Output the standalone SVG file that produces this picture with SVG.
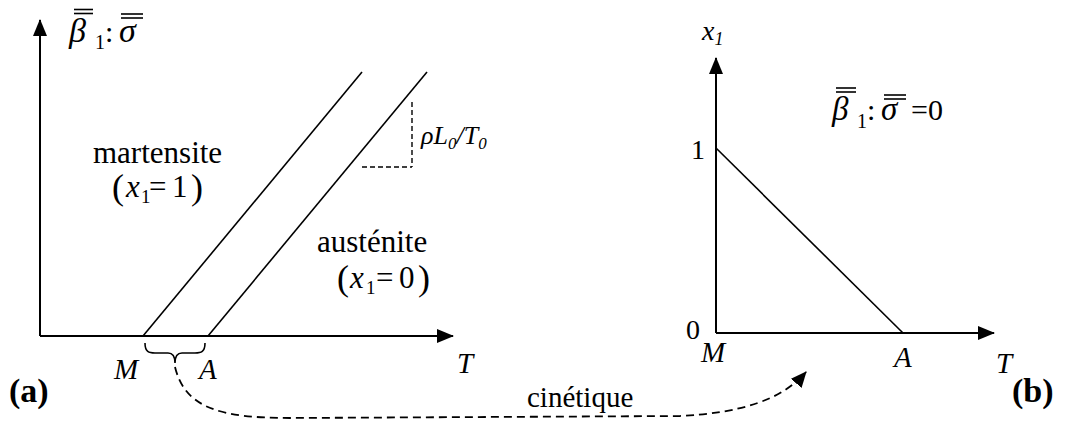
<svg xmlns="http://www.w3.org/2000/svg" width="1066" height="421" viewBox="0 0 1066 421">
<style>
.ln{stroke:#000;stroke-width:2;fill:none}
.dl{stroke:#000;stroke-width:1.6;fill:none}
.da{stroke:#000;stroke-width:1.8;fill:none;stroke-dasharray:8 5}
.ds{stroke:#000;stroke-width:1.4;fill:none;stroke-dasharray:5 3}
.bar{stroke:#000;stroke-width:1.6}
.t{font-family:'Liberation Serif','Times New Roman',serif;fill:#000}
.it{font-style:italic}
.bd{font-weight:bold}
</style>
<defs>
<marker id="ah" markerUnits="userSpaceOnUse" markerWidth="17" markerHeight="14" refX="16" refY="7" orient="auto">
<path d="M0,0 L17,7 L0,14 z" fill="#000"/>
</marker>
<marker id="ahs" markerUnits="userSpaceOnUse" markerWidth="16" markerHeight="14" refX="15" refY="7" orient="auto">
<path d="M0,0 L16,7 L0,14 z" fill="#000"/>
</marker>
</defs>

<g id="panel-a">
<line class="ln" x1="40" y1="336" x2="40" y2="20" marker-end="url(#ah)"/>
<line class="ln" x1="40" y1="336" x2="453" y2="336" marker-end="url(#ah)"/>
<line class="dl" x1="143" y1="336" x2="362" y2="72"/>
<line class="dl" x1="208" y1="336" x2="427" y2="72"/>
<line class="ds" x1="412" y1="102" x2="412" y2="167"/>
<line class="ds" x1="362" y1="167" x2="412" y2="167"/>
<path class="dl" d="M145,343 C145,352 149,353 155,353 L168,353 C173,353 175,356 175,363 C175,356 177,353 182,353 L195,353 C201,353 205,352 205,343"/>
<g id="label-beta-a">
<text class="t it" x="69" y="42" font-size="34">β</text>
<text class="t" x="95" y="49" font-size="20">1</text>
<text class="t" x="105" y="42" font-size="30">:</text>
<text class="t it" x="119" y="42" font-size="34">σ</text>
<line class="bar" x1="74" y1="9.5" x2="93" y2="9.5"/>
<line class="bar" x1="74" y1="13.5" x2="93" y2="13.5"/>
<line class="bar" x1="121" y1="14" x2="143" y2="14"/>
<line class="bar" x1="121" y1="18" x2="143" y2="18"/>
</g>
<text class="t" x="93" y="163" font-size="31">martensite</text>
<text class="t" font-size="31"><tspan x="112" y="199" font-size="36">(</tspan><tspan class="it" x="126" y="197">x</tspan><tspan x="141" y="203" font-size="19">1</tspan><tspan x="149" y="197">=</tspan><tspan x="172" y="197">1</tspan><tspan x="191" y="199" font-size="36">)</tspan></text>
<text class="t" x="317" y="252" font-size="31">austénite</text>
<text class="t" font-size="31"><tspan x="337" y="290" font-size="36">(</tspan><tspan class="it" x="350" y="288">x</tspan><tspan x="366" y="294" font-size="19">1</tspan><tspan x="376" y="288">=</tspan><tspan x="399" y="288">0</tspan><tspan x="418" y="290" font-size="36">)</tspan></text>
<text class="t it" x="421" y="144" font-size="26">ρL<tspan dy="5" font-size="17">0</tspan><tspan dy="-5">/T</tspan><tspan dy="5" font-size="17">0</tspan></text>
<text class="t it" x="114" y="379" font-size="29">M</text>
<text class="t it" x="199" y="379" font-size="29">A</text>
<text class="t it" x="457" y="373" font-size="29">T</text>
<text class="t bd" x="9" y="402" font-size="34">(a)</text>
</g>

<g id="panel-b">
<line class="ln" x1="716" y1="333" x2="716" y2="58" marker-end="url(#ah)"/>
<line class="ln" x1="716" y1="333" x2="994" y2="333" marker-end="url(#ah)"/>
<line class="dl" x1="716" y1="148" x2="903" y2="333"/>
<text class="t it" x="702" y="40" font-size="28">x<tspan dy="5" font-size="18">1</tspan></text>
<text class="t" x="691" y="159" font-size="28">1</text>
<text class="t" x="686" y="339" font-size="28">0</text>
<g id="label-beta-b">
<text class="t it" x="832" y="120" font-size="33">β</text>
<text class="t" x="857" y="128" font-size="20">1</text>
<text class="t" x="867" y="120" font-size="30">:</text>
<text class="t it" x="881" y="120" font-size="33">σ</text>
<text class="t" x="911" y="120" font-size="30">=0</text>
<line class="bar" x1="836" y1="88" x2="856" y2="88"/>
<line class="bar" x1="836" y1="92" x2="856" y2="92"/>
<line class="bar" x1="884" y1="95" x2="906" y2="95"/>
<line class="bar" x1="884" y1="99" x2="906" y2="99"/>
</g>
<text class="t it" x="701" y="362" font-size="29">M</text>
<text class="t it" x="894" y="367" font-size="29">A</text>
<text class="t it" x="996" y="373" font-size="29">T</text>
<text class="t bd" x="1012" y="402" font-size="34">(b)</text>
</g>

<g id="connectors">
<path class="da" d="M175,367 C185,408 220,418 290,418 L680,416 C740,413 782,400 806,372" marker-end="url(#ahs)"/>
<text class="t" x="527" y="407" font-size="29">cinétique</text>
</g>
</svg>
